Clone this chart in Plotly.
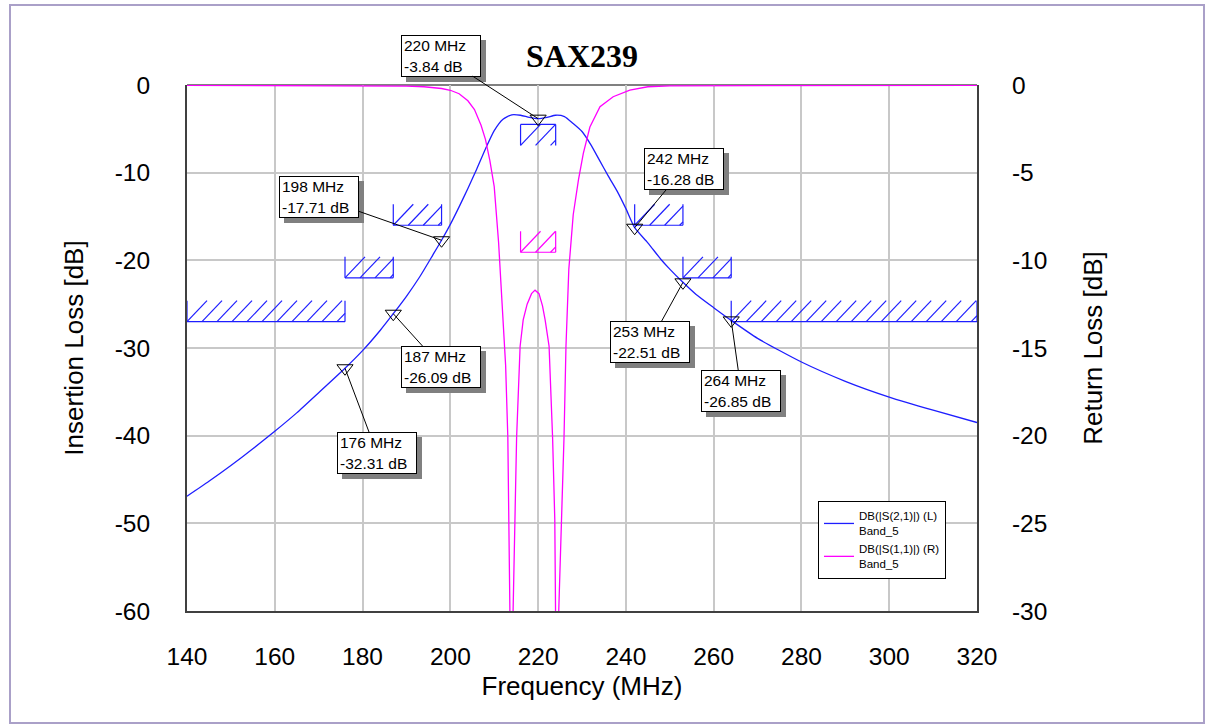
import plotly.graph_objects as go

# ---------------- data ----------------
freq_s21 = [140, 145, 150, 155, 160, 165, 170, 176, 180, 184, 187, 190, 193, 196, 198,
            200, 202, 204, 206, 208, 210, 212, 214, 216, 218, 220, 222, 224, 226, 228,
            230, 232, 234, 236, 238, 240, 242, 245, 248, 250, 253, 256, 260, 264, 270,
            280, 290, 300, 310, 320]
s21_db = [-46.9, -45.2, -43.4, -41.5, -39.5, -37.4, -35.1, -32.31, -30.3, -28.0, -26.09,
          -24.1, -21.9, -19.4, -17.71, -15.9, -13.9, -11.8, -9.6, -7.3, -5.2, -3.9, -3.4,
          -3.45, -3.7, -3.84, -3.7, -3.45, -3.6, -4.4, -5.3, -6.8, -8.6, -10.4, -12.1,
          -14.1, -16.28, -18.0, -19.9, -21.0, -22.51, -23.9, -25.4, -26.85, -28.9, -31.6,
          -33.8, -35.6, -37.1, -38.5]

freq_s11 = [140, 180, 190, 194, 198, 200, 202, 204, 205.5, 207, 208, 209, 210, 211, 212,
            212.6, 213.1, 213.4, 213.8, 214.05, 214.3, 214.7, 215.1, 215.9, 216.6, 217.5,
            218.5, 219.3, 220.2, 221.0, 221.6, 222.5, 223.3, 223.8, 223.95, 224.3, 224.7,
            225.3, 225.9, 226.35, 227.0, 228.0, 229.2, 230.3, 231.8, 234.1, 237.1, 240.9,
            245, 250, 320]
s11_db = [-0.02, -0.03, -0.06, -0.1, -0.2, -0.3, -0.5, -0.9, -1.4, -2.3, -3.1, -4.3, -5.8,
          -9.0, -13.2, -16.0, -20.1, -25.0, -30.0, -40.0, -30.0, -24.8, -20.1, -14.9, -13.4,
          -12.5, -11.9, -11.7, -11.9, -12.6, -13.4, -14.9, -20.1, -24.8, -30.0, -40.0, -30.0,
          -25.0, -20.1, -14.9, -10.5, -7.4, -5.4, -3.9, -2.4, -1.24, -0.67, -0.29, -0.1,
          -0.05, -0.02]

marker_freq = [176, 187, 198, 220, 242, 253, 264]
marker_db = [-32.31, -26.09, -17.71, -3.84, -16.28, -22.51, -26.85]

spec21_start = [140, 176, 187, 216, 242, 253, 264]
spec21_stop = [176, 187, 198, 224, 253, 264, 320]
spec21_level = [-27, -22, -16, -4.5, -16, -22, -27]
spec21_side = [1, 1, 1, -1, 1, 1, 1]     # 1: hatch above line, -1: hatch below

spec11_start = [216]
spec11_stop = [224]
spec11_level = [-9.54]
spec11_side = [1]

x_ticks = [140, 160, 180, 200, 220, 240, 260, 280, 300, 320]
yl_ticks = [0, -10, -20, -30, -40, -50, -60]
yr_ticks = [0, -5, -10, -15, -20, -25, -30]

title_text = "SAX239"
s21_name = "DB(|S(2,1)|) (L)<br>Band_5"
s11_name = "DB(|S(1,1)|) (R)<br>Band_5"

# ---------------- layout constants ----------------
W, H = 1212, 728
ML, MR, MT, MB = 187, 235, 85, 117
PW, PH = W - ML - MR, H - MT - MB
XR = [140, 320]
YLR = [-60, 0]
YRR = [-30, 0]
BLUE = "rgb(30,30,255)"
MAG = "rgb(255,0,255)"
FONT = "Arial, Liberation Sans, sans-serif"

HATCH_H, HATCH_DX, HATCH_STEP = 21, 20, 15


def hatch_xy(x0, x1, level, side, yrange):
    mpp = (XR[1] - XR[0]) / PW
    dpp = (yrange[1] - yrange[0]) / PH
    h = HATCH_H * dpp
    yb, yt = (level, level + h) if side > 0 else (level - h, level)
    xs = [x0, x1, None, x0, x0, None, x1, x1, None]
    ys = [level, level, None, yb, yt, None, yb, yt, None]
    dx, step = HATCH_DX * mpp, HATCH_STEP * mpp
    k = 0
    while True:
        xa = x0 + k * step
        if xa >= x1 - 1e-9:
            break
        xb = xa + dx
        ye = yt
        if xb > x1:
            ye = yb + (x1 - xa) / dx * (yt - yb)
            xb = x1
        xs += [xa, xb, None]
        ys += [yb, ye, None]
        k += 1
    return xs, ys


fig = go.Figure()

# spec hatches
for a, b, lv, sd in zip(spec21_start, spec21_stop, spec21_level, spec21_side):
    hx, hy = hatch_xy(a, b, lv, sd, YLR)
    fig.add_trace(go.Scatter(x=hx, y=hy, mode="lines", line=dict(color=BLUE, width=1.2),
                             showlegend=False, hoverinfo="skip", yaxis="y"))
for a, b, lv, sd in zip(spec11_start, spec11_stop, spec11_level, spec11_side):
    hx, hy = hatch_xy(a, b, lv, sd, YRR)
    fig.add_trace(go.Scatter(x=hx, y=hy, mode="lines", line=dict(color=MAG, width=1.2),
                             showlegend=False, hoverinfo="skip", yaxis="y2"))

fig.add_trace(go.Scatter(x=freq_s21, y=s21_db, mode="lines", name=s21_name,
                         line=dict(color=BLUE, width=1.3, shape="spline", smoothing=0.6),
                         yaxis="y"))
fig.add_trace(go.Scatter(x=freq_s11, y=s11_db, mode="lines", name=s11_name,
                         line=dict(color=MAG, width=1.3), yaxis="y2"))

fig.add_trace(go.Scatter(x=marker_freq, y=marker_db, mode="markers", showlegend=False,
                         marker=dict(symbol="triangle-down-open", size=14,
                                     color="black", line=dict(color="black", width=1)),
                         hoverinfo="skip", yaxis="y"))

# marker labels: box-centre offsets in px
offsets = {176: (32, 85), 187: (48, 53), 198: (-123, -43), 220: (-97, -63),
           242: (49, -59), 253: (-33, 60), 264: (10, 71)}
BOX_W, BOX_H = 74, 36
annotations = []
for f, v in zip(marker_freq, marker_db):
    axp, ayp = offsets[f]
    annotations.append(dict(x=f, y=v, xref="x", yref="y", ax=axp, ay=ayp,
                            xshift=5, yshift=-5, text="&nbsp;", showarrow=True,
                            arrowcolor="rgba(0,0,0,0)", arrowwidth=0.1, arrowhead=0,
                            font=dict(family=FONT, size=15, color="rgb(128,128,128)"),
                            bgcolor="rgb(128,128,128)", bordercolor="rgb(128,128,128)",
                            borderwidth=1, borderpad=2, width=BOX_W, height=BOX_H))
for f, v in zip(marker_freq, marker_db):
    axp, ayp = offsets[f]
    txt = f"{f} MHz<br>{v:.2f} dB"
    annotations.append(dict(x=f, y=v, xref="x", yref="y", ax=axp, ay=ayp,
                            text=txt, showarrow=True, arrowcolor="black", arrowwidth=1,
                            arrowhead=0, standoff=0,
                            font=dict(family=FONT, size=15.5, color="black"),
                            bgcolor="white", bordercolor="black",
                            borderwidth=1, borderpad=2, width=BOX_W, height=BOX_H,
                            align="left"))


def px_x(p):
    return (p - ML) / PW


def px_y(p):
    return (MT + PH - p) / PH


shapes = [
    # outer frame
    dict(type="rect", xref="paper", yref="paper", x0=px_x(10), x1=px_x(1204),
         y0=px_y(723), y1=px_y(5), line=dict(color="rgb(170,160,200)", width=2),
         layer="below"),
    # top plot border (gray)
    dict(type="line", xref="paper", yref="paper", x0=0, x1=1, y0=1, y1=1,
         line=dict(color="rgb(128,128,128)", width=2), layer="below"),
    # legend shadow
    dict(type="rect", xref="paper", yref="paper", x0=px_x(823), x1=px_x(940),
         y0=px_y(576), y1=px_y(506), fillcolor="rgb(128,128,128)",
         line=dict(width=0), layer="above"),
]

tick_font = dict(family=FONT, size=24.5, color="black")
axis_font = dict(family=FONT, size=26, color="black")

fig.update_layout(
    width=W, height=H,
    margin=dict(l=ML, r=MR, t=MT, b=MB, pad=0),
    paper_bgcolor="white", plot_bgcolor="white",
    title=dict(text=f"<b>{title_text}</b>", x=0.5, xref="paper", y=1 - 56 / H,
               yref="container", xanchor="center", yanchor="middle",
               font=dict(family="Liberation Serif, Times New Roman, serif", size=32,
                         color="black")),
    xaxis=dict(range=XR, tickvals=x_ticks, ticktext=[str(t) for t in x_ticks],
               showgrid=True, gridcolor="rgb(200,200,200)", gridwidth=1.5,
               zeroline=False, showline=True, linecolor="rgb(64,64,64)", linewidth=2,
               ticks="", ticklabelstandoff=23, tickfont=tick_font,
               title=dict(text="Frequency (MHz)", font=axis_font, standoff=7),
               automargin=False),
    yaxis=dict(range=YLR, tickvals=yl_ticks, ticktext=[str(t) for t in yl_ticks],
               showgrid=True, gridcolor="rgb(200,200,200)", gridwidth=1.5,
               zeroline=False, showline=True, linecolor="rgb(64,64,64)", linewidth=2,
               ticks="", ticklabelstandoff=30, tickfont=tick_font,
               title=dict(text="Insertion Loss [dB]", font=axis_font, standoff=24),
               automargin=False),
    yaxis2=dict(range=YRR, tickvals=yr_ticks, ticktext=[str(t) for t in yr_ticks],
                overlaying="y", side="right", showgrid=False, zeroline=False,
                showline=True, linecolor="rgb(64,64,64)", linewidth=2, ticks="",
                ticklabelstandoff=28, tickfont=tick_font,
                title=dict(text="Return Loss [dB]", font=axis_font, standoff=37),
                automargin=False),
    legend=dict(x=px_x(818), y=px_y(501), xanchor="left", yanchor="top",
                bgcolor="white", bordercolor="black", borderwidth=1,
                font=dict(family=FONT, size=11.5, color="black"),
                tracegroupgap=6, itemwidth=30),
    annotations=annotations,
    shapes=shapes,
    showlegend=True,
)

fig.write_html("out.html")
